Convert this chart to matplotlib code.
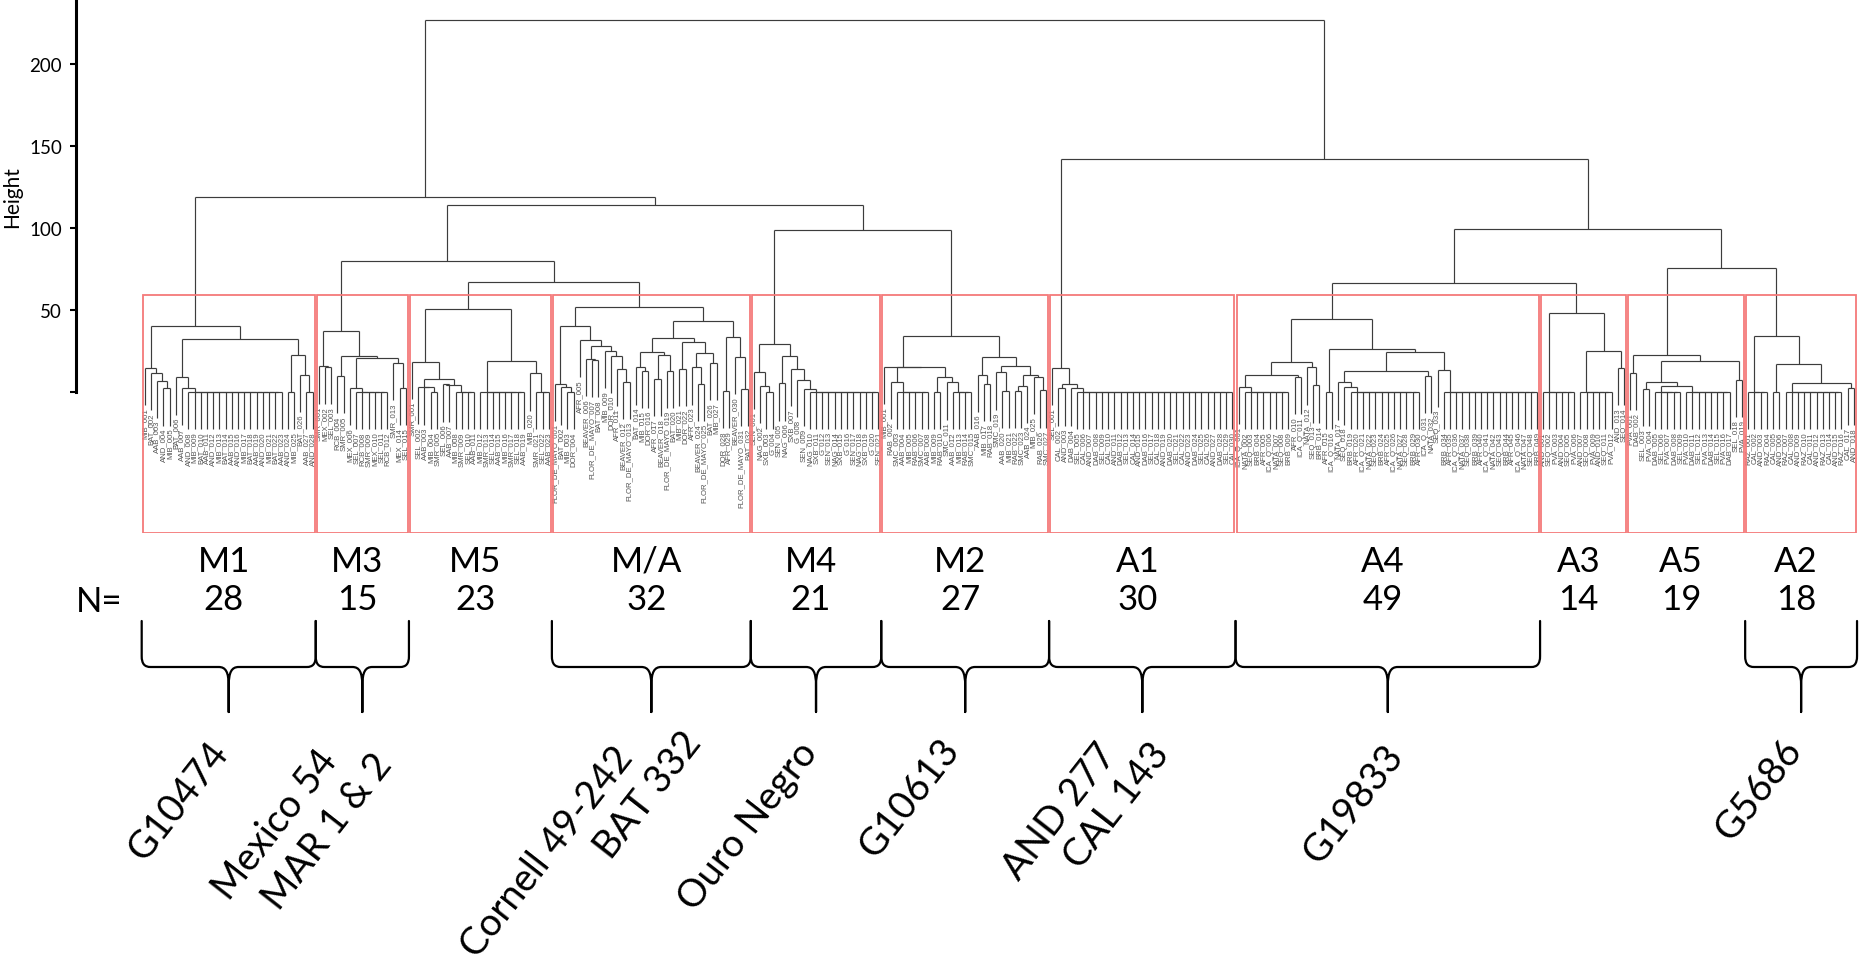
import matplotlib
matplotlib.use("Agg")
import matplotlib.pyplot as plt
from matplotlib.collections import LineCollection
from matplotlib.path import Path
from matplotlib.patches import PathPatch, Rectangle

plt.rcParams['font.family'] = ['Lato', 'DejaVu Sans']

# groups in leaf order, with their sizes
clusters = ["M1", "M3", "M5", "M/A", "M4", "M2", "A1", "A4", "A3", "A5", "A2"]
counts = [28, 15, 23, 32, 21, 27, 30, 49, 14, 19, 18]

# reference genotypes written under the braces (None = no brace)
brace_labels = [["G10474"], ["Mexico 54", "MAR 1 & 2"], None,
                ["Cornell 49-242", "BAT 332"], ["Ouro Negro"], ["G10613"],
                ["AND 277", "CAL 143"], ["G19833"], None, None, ["G5686"]]

# sub-trees: [height, left, right]; an integer n = n leaves joined at height 0
m1_tree = [40, [14.6, 1, [11.6, 1, [6.9, 1, [2.2, 1, 1]]]],
           [32.3, [8.9, 1, [2.4, 1, 16]], [22.8, 2, [10.6, 1, 2]]]]
m3_tree = [37, [15.6, 1, [15.2, 1, 1]],
           [22.2, [9.6, 1, 1], [21, [2.4, 1, 6], [17.7, 1, [2.4, 1, 1]]]]]
m5_tree = [50.6, [18.5, 1, [7.9, [2.9, 1, [2.8, 1, 2]], [4.3, [4.6, 1, 1], 4]]],
           [19.1, 8, [11.4, 1, 3]]]
ma_tree = [51.6,
           [40.4, [4.9, 1, [2.8, 1, 2]],
            [31.7, 1, [28.3, [20, 1, [19.5, 1, 1]],
                       [25, 1, [22, 1, [14, 1, [6, 1, 1]]]]]]],
           [43.5,
            [32.7, [24.6, [15, 1, [13, 1, 1]], [22.6, [8, 1, 1], [13, 1, 1]]],
             [30.3, [14, 1, 1], [23.8, [15, 1, [5, 1, 1]], [17.7, 1, 1]]]],
            [33.7, [0.5, 1, 1], [21.5, 1, [2, 1, 1]]]]]
m4_tree = [29.3, [12.4, 1, [3.9, 1, 2]],
           [22.2, [5.3, 1, 1], [14, 1, [7.5, 1, [1.8, 1, 12]]]]]
m2_tree = [34, [15.4, 1, [15.2, [6, 1, 6], [9, 2, [5.9, 1, 4]]]],
           [21.1, [10.6, 1, [4.9, 1, 1]],
            [15.6, [12, 1, [0.5, 1, 1]],
             [10.6, [3.9, [0.8, 1, 1], 1], [9, 1, [1, 1, 1]]]]]]
a1_tree = [14.6, 1, [4.9, [2.2, 1, 1], [2.2, 1, 26]]]
a4_tree = [44.5, [18.5, [10.5, [3, 1, 8], [9, 1, 1]], [15, 1, [4, 1, 1]]],
           [26.2, [0.3, 1, 1],
            [24.2, [13, [5.9, 1, [2.8, 1, 12]], [9.8, 1, 1]], [13.6, 1, 16]]]]
a3_tree = [48, 6, [25, 6, [14.6, 1, 1]]]
a5_tree = [22.6, [11.6, 1, 1], [18.7, [5.9, [2, 1, 1], [3.5, 5, 8]], [7.5, 1, 1]]]
a2_tree = [34.1, 4, [17.3, 2, [5.3, 10, [2.4, 1, 1]]]]

m_tree = [119, m1_tree, [114.2, [80, m3_tree, [67, m5_tree, ma_tree]],
                         [99, m4_tree, m2_tree]]]
a_tree = [141.8, a1_tree, [99.6, [66.4, a4_tree, a3_tree], [75.6, a5_tree, a2_tree]]]
tree = [227, m_tree, a_tree]

# leaf name stems per group (the printed names are too small to read)
leaf_stems = [["MIB", "BAT", "AAB", "AND"], ["SMR", "MEX", "SEL", "RCB"],
              ["SMR", "SEL", "AAB", "MIB"], ["FLOR_DE_MAYO", "BAT", "MIB", "DOR", "AFR", "BEAVER"],
              ["SEN", "NAG", "SXB", "G"], ["MIB", "RAB", "SMC", "AAB"],
              ["SEL", "CAL", "AND", "DAB"], ["ICA_Q", "NATA", "SEQ", "BRB", "AFR"],
              ["AND", "SEQ", "PVA"], ["PVA", "DAB", "SEL"], ["RAZ", "CAL", "AND"]]

# ---- geometry of the original figure (pixels) ----
W, H = 1861, 962
LEAF1_PX, PX_PER_LEAF = 144.8, 6.215
ZERO_PX, PX_PER_UNIT = 393.0, 1.64
AX_LEFT_PX, AX_BOTTOM_PX = 76, 534
HANG = 0.1 * tree[0]

fig = plt.figure(figsize=(W / 100, H / 100), dpi=100)
ax = fig.add_axes([AX_LEFT_PX / W, 1 - AX_BOTTOM_PX / H, 1 - AX_LEFT_PX / W, AX_BOTTOM_PX / H])
ax.set_xlim(1 - (LEAF1_PX - AX_LEFT_PX) / PX_PER_LEAF, 1 + (W - LEAF1_PX) / PX_PER_LEAF)
ytop = ZERO_PX / PX_PER_UNIT
ax.set_ylim(-(AX_BOTTOM_PX - ZERO_PX) / PX_PER_UNIT, ytop)

segs, leaf_ends, heights = [], [], []


def expand(node):
    if isinstance(node, int) and node > 1:
        return [0, 1, expand(node - 1)]
    return node


def place(node, nxt):
    node = expand(node)
    if node == 1:
        x = nxt[0]
        nxt[0] += 1
        return x, None
    h, a, b = node
    heights.append(h)
    xa, ha = place(a, nxt)
    xb, hb = place(b, nxt)
    for x, hc in ((xa, ha), (xb, hb)):
        bottom = h - HANG if hc is None else hc
        segs.append([(x, h), (x, bottom)])
        if hc is None:
            leaf_ends.append((x, bottom))
    segs.append([(xa, h), (xb, h)])
    return (xa + xb) / 2, h


place(tree, [1])
ax.add_collection(LineCollection(segs, colors='#3c3c3c', linewidths=0.85))

# leaf labels
leaf_ends.sort()
names = []
for stems, n in zip(leaf_stems, counts):
    for k in range(n):
        names.append(f"{stems[k % len(stems)]}_{k + 1:03d}")
for (x, y), name in zip(leaf_ends, names):
    ax.text(x, y - 1.2, name, rotation=90, ha='center', va='top', fontsize=5.6,
            color='#555555', family=['Liberation Sans', 'DejaVu Sans'])

# boxes around the 11 groups (rect.hclust style)
hs = sorted(heights, reverse=True)
box_top = (hs[len(clusters) - 2] + hs[len(clusters) - 1]) / 2
ybot = ax.get_ylim()[0]
edges = [0]
for n in counts:
    edges.append(edges[-1] + n)
for i in range(len(counts)):
    x0, x1 = edges[i] + 0.66, edges[i + 1] + 0.33
    ax.add_patch(Rectangle((x0, ybot), x1 - x0, box_top - ybot, fill=False,
                           edgecolor='#f47a7a', linewidth=1.3, zorder=3))

for s in ('top', 'right', 'bottom'):
    ax.spines[s].set_visible(False)
ax.spines['left'].set_linewidth(2.2)
ax.spines['left'].set_bounds(0, ytop)
ax.set_xticks([])
ax.set_yticks([0, 50, 100, 150, 200])
ax.set_yticklabels(["", "50", "100", "150", "200"])
ax.tick_params(axis='y', length=4, width=1.5, pad=6, labelsize=13.5)
fig.text(12 / W, 1 - 197 / H, "Height", rotation=90, ha='center', va='center', fontsize=15)

# ---- annotation layer in pixel coordinates ----
ov = fig.add_axes([0, 0, 1, 1])
ov.set_xlim(0, W)
ov.set_ylim(H, 0)
ov.axis('off')


def to_px(x):
    return ax.transData.transform((x, 0))[0]


def brace(xl, xr, y0=622, y1=668, y2=713):
    xc = (xl + xr) / 2
    verts = [(xl, y0), (xl, y1 - 11), (xl, y1 - 3), (xl + 3, y1), (xl + 9, y1),
             (xc - 10, y1), (xc - 3, y1), (xc, y1 + 5), (xc, y1 + 19), (xc, y2),
             (xc, y1 + 19), (xc, y1 + 5), (xc + 3, y1), (xc + 10, y1),
             (xr - 9, y1), (xr - 3, y1), (xr, y1 - 3), (xr, y1 - 11), (xr, y0)]
    codes = [Path.MOVETO, Path.LINETO, Path.CURVE4, Path.CURVE4, Path.CURVE4,
             Path.LINETO, Path.CURVE4, Path.CURVE4, Path.CURVE4, Path.LINETO,
             Path.LINETO, Path.CURVE4, Path.CURVE4, Path.CURVE4,
             Path.LINETO, Path.CURVE4, Path.CURVE4, Path.CURVE4, Path.LINETO]
    ov.add_patch(PathPatch(Path(verts, codes), fill=False, edgecolor='black',
                           linewidth=1.6, capstyle='round', joinstyle='round'))


# group names and sizes
for i, (name, n) in enumerate(zip(clusters, counts)):
    xc = (to_px(edges[i] + 0.66) + to_px(edges[i + 1] + 0.33)) / 2 - 5
    ov.text(xc, 562, name, ha='center', va='center', fontsize=25)
    ov.text(xc, 600, str(n), ha='center', va='center', fontsize=25)
ov.text(99, 602, "N=", ha='center', va='center', fontsize=25)

# braces and the rotated labels under them
label_centers = {0: [(178, 801)], 1: [(275, 825), (328, 832)],
                 3: [(547, 852), (648, 795)], 4: [(748, 826)], 5: [(909, 799)],
                 6: [(1060, 812), (1117, 806)], 7: [(1353, 805)], 10: [(1759, 790)]}
for i, labs in enumerate(brace_labels):
    if labs is None:
        continue
    brace(to_px(edges[i] + 0.5), to_px(edges[i + 1] + 0.5))
    for text, (cx, cy) in zip(labs, label_centers[i]):
        ov.text(cx, cy, text, rotation=52, rotation_mode='anchor', ha='center',
                va='center', fontsize=27.5)

fig.savefig("out.png", dpi=100)
